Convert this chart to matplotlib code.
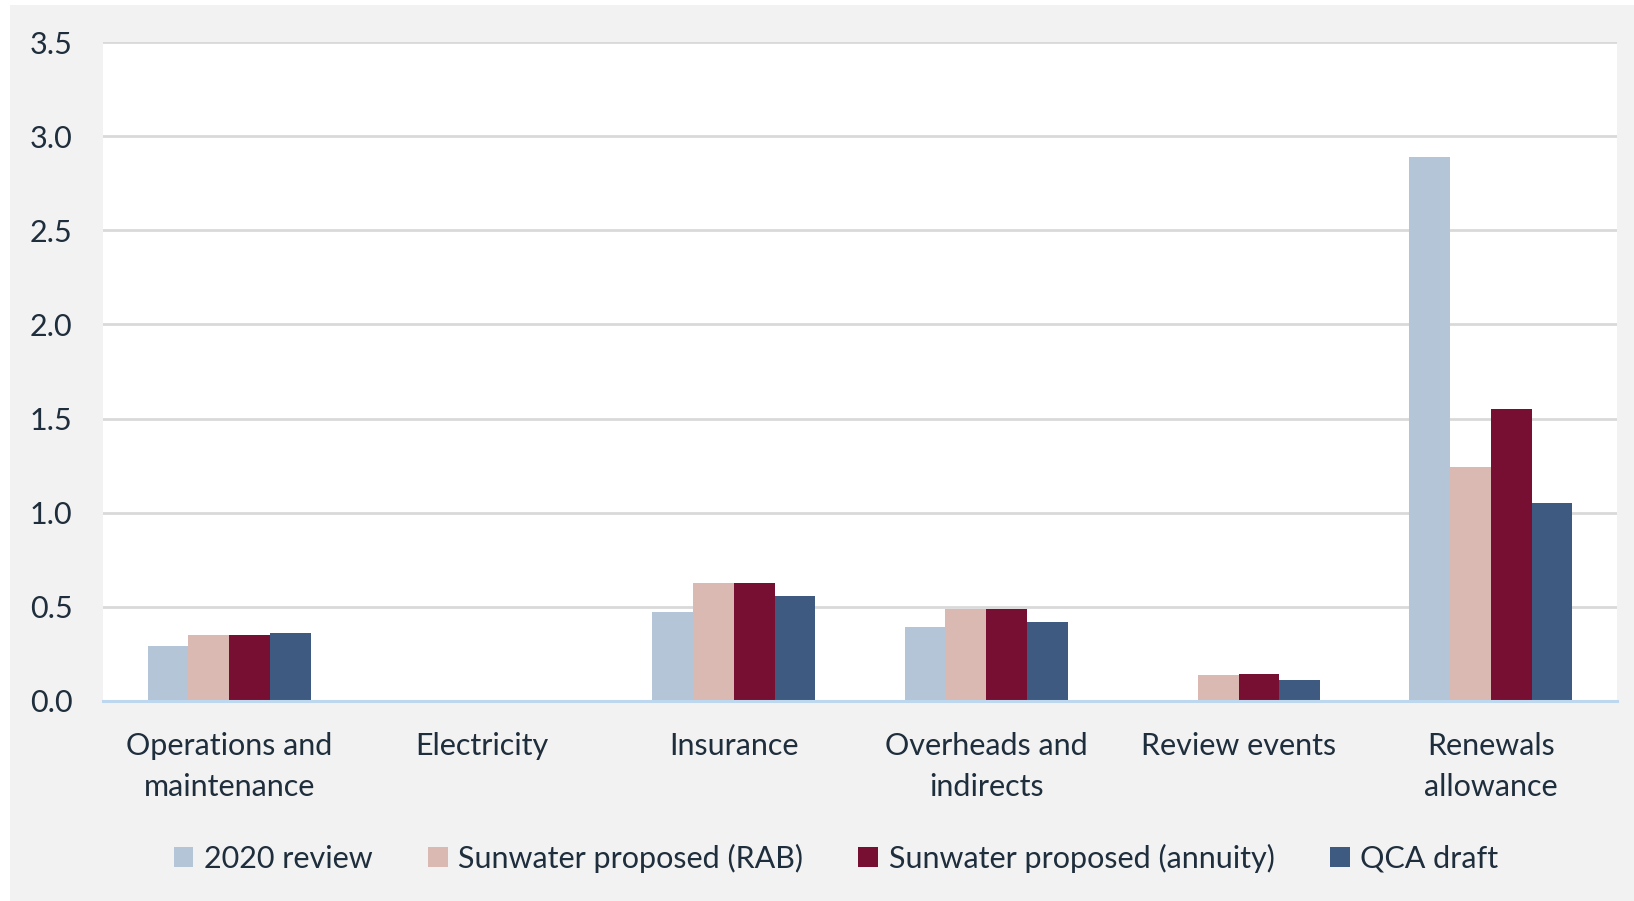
import matplotlib
matplotlib.use("Agg")
import matplotlib.pyplot as plt
import numpy as np
from matplotlib.patches import Rectangle

categories = ["Operations and\nmaintenance", "Electricity", "Insurance",
              "Overheads and\nindirects", "Review events", "Renewals\nallowance"]
series_names = ["2020 review", "Sunwater proposed (RAB)",
                "Sunwater proposed (annuity)", "QCA draft"]
review_2020 = [0.294, 0.0, 0.473, 0.395, 0.0, 2.887]
sunwater_rab = [0.352, 0.0, 0.625, 0.490, 0.140, 1.244]
sunwater_annuity = [0.352, 0.0, 0.625, 0.490, 0.143, 1.551]
qca_draft = [0.361, 0.0, 0.556, 0.421, 0.113, 1.050]
yticks = [0.0, 0.5, 1.0, 1.5, 2.0, 2.5, 3.0, 3.5]

colors = ["#b3c5d7", "#dab9b3", "#770f32", "#3e5a80"]
text_color = "#1f2e3c"

plt.rcParams['font.family'] = ['Lato', 'DejaVu Sans']

W, H = 1634, 901
fig = plt.figure(figsize=(W / 100, H / 100), dpi=100)
fig.patch.set_facecolor("#f2f2f2")
# white borders at left/top
fig.patches.append(Rectangle((0, 0), 10 / W, 1, transform=fig.transFigure,
                             facecolor="white", edgecolor="none", zorder=0))
fig.patches.append(Rectangle((0, 1 - 5 / H), 1, 5 / H, transform=fig.transFigure,
                             facecolor="white", edgecolor="none", zorder=0))

ax = fig.add_axes([103 / W, 1 - 701 / H, (1617 - 103) / W, (701 - 42) / H])
ax.set_facecolor("white")

x = np.arange(len(categories))
bw = 0.1615
data = [review_2020, sunwater_rab, sunwater_annuity, qca_draft]
for i, (vals, name, c) in enumerate(zip(data, series_names, colors)):
    ax.bar(x + (i - 1.5) * bw, vals, width=bw, color=c, label=name, zorder=3,
           linewidth=0)

ax.set_xlim(-0.5, len(categories) - 0.5)
ax.set_ylim(0, 3.5)
ax.set_yticks(yticks)
ax.set_yticklabels([f"{v:.1f}" for v in yticks])
ax.yaxis.grid(True, color="#d9d9d9", linewidth=2.0, zorder=0)
ax.set_axisbelow(True)
for s in ["top", "right", "left"]:
    ax.spines[s].set_visible(False)
ax.spines["bottom"].set_color("#bdd7ee")
ax.spines["bottom"].set_linewidth(2.2)
ax.spines["bottom"].set_zorder(4)

ax.set_xticks(x)
ax.set_xticklabels(categories, linespacing=1.58)
ax.tick_params(axis="both", length=0, labelsize=22, labelcolor=text_color)
ax.tick_params(axis="y", pad=22)
ax.tick_params(axis="x", pad=22)

handles, labels = ax.get_legend_handles_labels()
leg = fig.legend(handles, labels, loc="center", bbox_to_anchor=(836 / W, 1 - 858 / H),
                 ncol=4, frameon=False, fontsize=22, handlelength=0.65,
                 handleheight=0.65, handletextpad=0.35, columnspacing=1.8,
                 labelcolor=text_color)

fig.savefig("out.png", dpi=100, facecolor=fig.get_facecolor())
